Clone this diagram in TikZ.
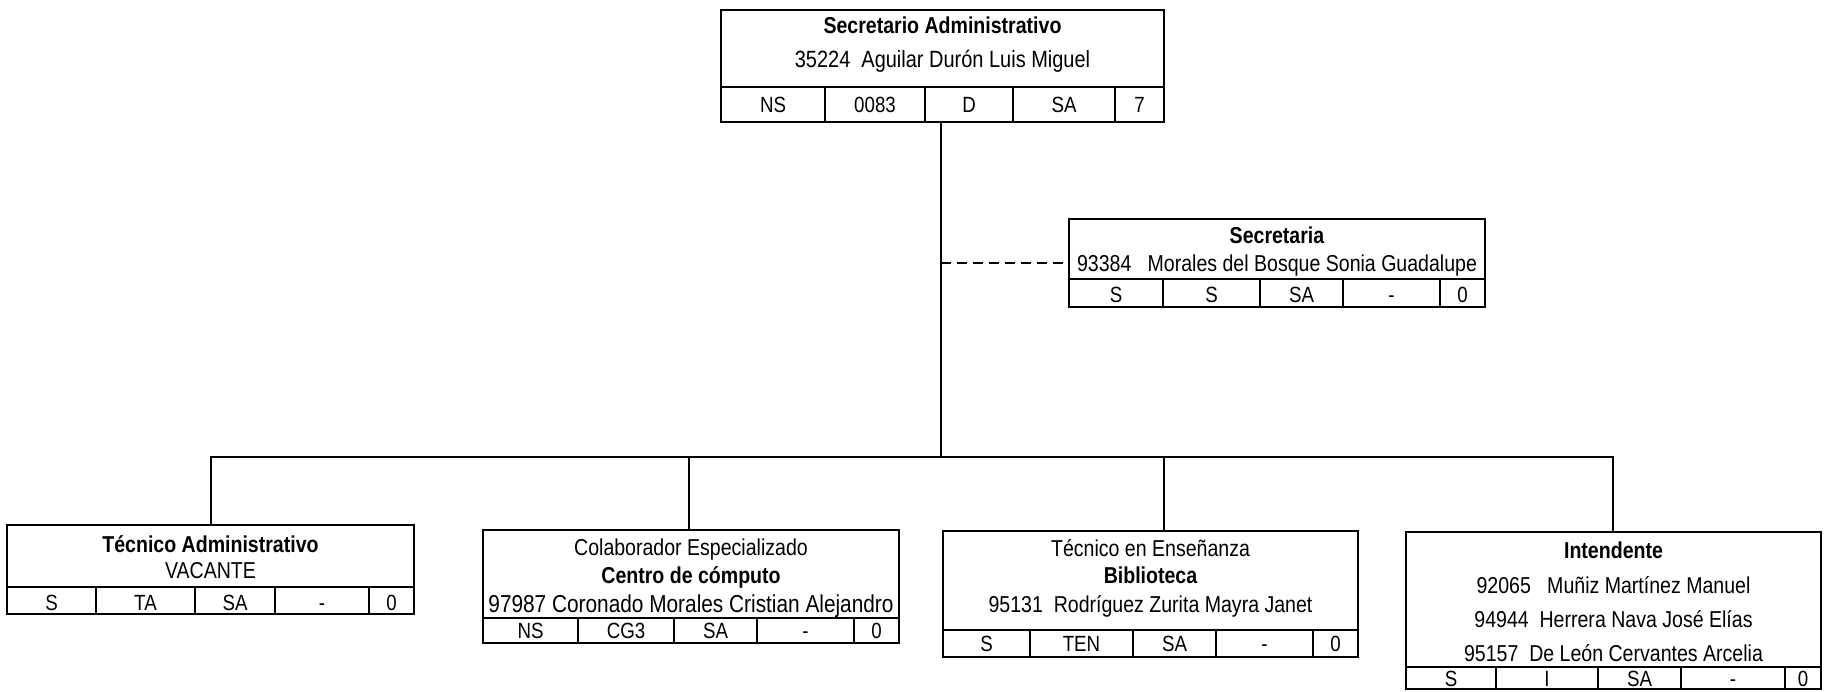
\documentclass[tikz,border=0pt]{standalone}
\usepackage{fontspec}
\setmainfont{Liberation Sans}[FakeStretch=0.85]
\begin{document}
\begin{tikzpicture}[x=1pt,y=-1pt,
  box/.style={draw, line width=2pt, inner sep=0pt, outer sep=0pt, rectangle},
  div/.style={line width=1.4pt},
  conn/.style={line width=1.3pt},
  txt/.style={inner sep=0pt, anchor=base, font=\fontsize{23}{27}\selectfont},
  bigtxt/.style={inner sep=0pt, anchor=base, font=\fontsize{24.5}{28}\selectfont},
  celltxt/.style={inner sep=0pt, anchor=base, font=\fontsize{22}{26}\selectfont}]
\useasboundingbox (0,0) rectangle (1826,691);
\newcommand\orgbox[7]{%
  \draw[div] (#2,#6) -- (#4,#6);
  \foreach \c in {#7} {\draw[div] (\c,#6) -- (\c,#5);}
  \node[box, anchor=north west, minimum width={(#4-#2)*1pt}, minimum height={(#5-#3)*1pt}] (#1) at (#2,#3) {};
}
\newcommand\cellrow[3]{%
  \foreach \x/\t [count=\i] in {#3} {\node[celltxt] (#1-c\i) at (\x,#2) {\t};}
}
% boxes
\orgbox{top}{721}{10}{1164}{122}{87}{825,925,1013,1115}
\orgbox{sec}{1069}{219}{1485}{307}{279}{1163,1260,1343,1440}
\orgbox{ta}{7}{525}{414}{614}{587}{96,195,275,369}
\orgbox{cc}{483}{530}{899}{643}{618}{578,674,757,854}
\orgbox{te}{943}{531}{1358}{657}{630}{1030,1133,1216,1313}
\orgbox{int}{1406}{532}{1821}{689}{667}{1496,1598,1681,1785}
% texts
\node[txt] (topT) at (942.5,33) {\bfseries Secretario Administrativo};
\node[txt, font=\fontsize{23.5}{27}\selectfont] (topN) at (942.5,67) {35224\ \ Aguilar Durón Luis Miguel};
\cellrow{top}{112}{773/NS,875/0083,969/D,1064/SA,1139.5/7}
\node[txt] (secT) at (1277,243) {\bfseries Secretaria};
\node[txt] (secN) at (1277,271) {93384\ \ \ Morales del Bosque Sonia Guadalupe};
\cellrow{sec}{302}{1116/S,1211.5/S,1301.5/SA,1391.5/-,1462.5/0}
\node[txt] (taT) at (210.5,552) {\bfseries Técnico Administrativo};
\node[txt] (taN) at (210.5,578) {VACANTE};
\cellrow{ta}{610}{51.5/S,145.5/TA,235/SA,322/-,391.5/0}
\node[txt] (ccT) at (691,555) {Colaborador Especializado};
\node[txt] (ccA) at (691,583) {\bfseries Centro de cómputo};
\node[bigtxt] (ccN) at (691,612) {97987 Coronado Morales Cristian Alejandro};
\cellrow{cc}{638}{530.5/NS,626/CG3,715.5/SA,805.5/-,876.5/0}
\node[txt] (teT) at (1150.5,556) {Técnico en Enseñanza};
\node[txt] (teA) at (1150.5,583) {\bfseries Biblioteca};
\node[txt] (teN) at (1150.5,612) {95131\ \ Rodríguez Zurita Mayra Janet};
\cellrow{te}{651}{986.5/S,1081.5/TEN,1174.5/SA,1264.5/-,1335.5/0}
\node[txt] (intT) at (1613.5,558) {\bfseries Intendente};
\node[txt] (intA) at (1613.5,593) {92065\ \ \ Muñiz Martínez Manuel};
\node[txt] (intB) at (1613.5,627) {94944\ \ Herrera Nava José Elías};
\node[txt] (intC) at (1613.5,661) {95157\ \ De León Cervantes Arcelia};
\cellrow{int}{686}{1451/S,1547/I,1639.5/SA,1733/-,1803/0}
% connectors
\coordinate (hub) at (941,457);
\coordinate (topS) at (941,122);
\coordinate (taN0) at (211,525);
\coordinate (ccN0) at (689,530);
\coordinate (teN0) at (1164,531);
\coordinate (intN0) at (1613,532);
\draw[conn] (topS) -- (hub);
\draw[conn] (taN0) -- (taN0 |- hub) -- (intN0 |- hub) -- (intN0);
\draw[conn] (ccN0) -- (ccN0 |- hub);
\draw[conn] (teN0) -- (teN0 |- hub);
\draw[conn, dash pattern=on 10pt off 6pt] (sec.west -| hub) -- (sec.west);
\end{tikzpicture}
\end{document}
